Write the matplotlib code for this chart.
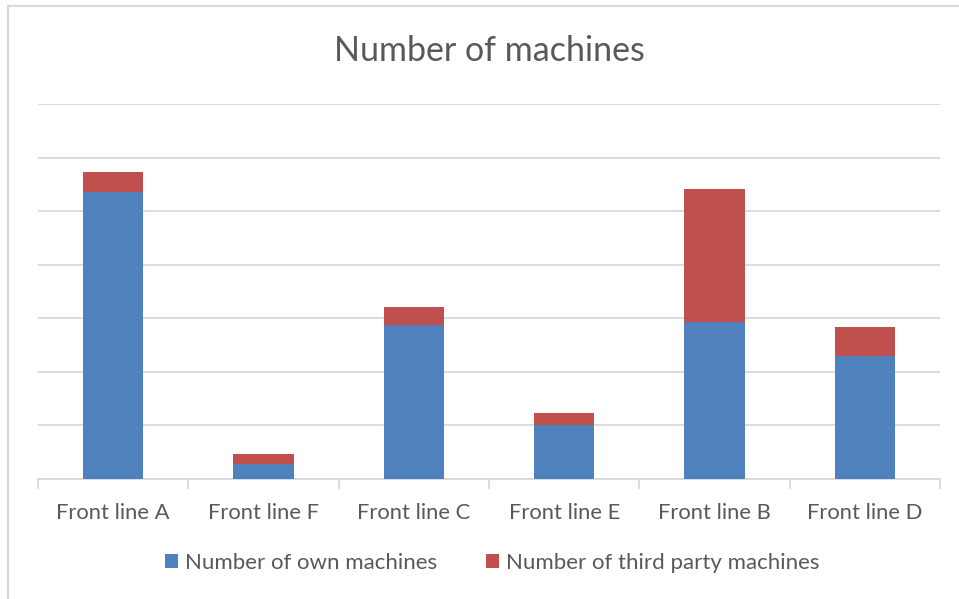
import matplotlib.pyplot as plt
import numpy as np
from matplotlib.lines import Line2D

plt.rcParams['font.family'] = ['Lato', 'DejaVu Sans']

lines = ['Front line A', 'Front line F', 'Front line C', 'Front line E', 'Front line B', 'Front line D']
own = [53.5, 2.8, 28.7, 10.0, 29.3, 23.0]
third_party = [3.8, 1.8, 3.4, 2.4, 24.8, 5.3]

W, H = 959, 599
fig = plt.figure(figsize=(W / 100, H / 100), dpi=100)
ax = fig.add_axes([38 / W, (H - 479) / H, (940 - 38) / W, (479 - 104) / H])

x = np.arange(len(lines))
ax.bar(x, own, width=0.4, color='#4F81BD', label='Number of own machines', zorder=3)
ax.bar(x, third_party, width=0.4, bottom=own, color='#C0504D',
       label='Number of third party machines', zorder=3)

ax.set_xlim(-0.5, len(lines) - 0.5)
ax.set_ylim(0, 70)
ax.set_yticks(np.arange(0, 71, 10))
ax.yaxis.grid(True, color='#d9d9d9', linewidth=1.3, zorder=0)
ax.tick_params(axis='y', left=False, labelleft=False)

ax.set_xticks(x)
ax.set_xticklabels(lines, fontsize=15.8, color='#595959')
ax.tick_params(axis='x', length=0, pad=17)
ax.set_xticks(np.arange(-0.5, len(lines)), minor=True)
ax.tick_params(axis='x', which='minor', length=7, width=1.3, color='#d9d9d9')

for s in ['top', 'right', 'left']:
    ax.spines[s].set_visible(False)
ax.spines['bottom'].set_color('#d9d9d9')
ax.spines['bottom'].set_linewidth(1.3)

fig.text(489 / W, 1 - 51 / H, 'Number of machines', ha='center', va='center',
         fontsize=24.5, color='#595959')

fig.legend(loc='center', bbox_to_anchor=(492 / W, 1 - 563 / H), ncol=2, frameon=False,
           fontsize=16, labelcolor='#595959', handlelength=0.6, handleheight=0.6,
           handletextpad=0.3, columnspacing=2.2)

# outer chart frame (top and left edges)
fig.add_artist(Line2D([8 / W, 8 / W], [0, 1 - 6 / H], color='#d9d9d9', linewidth=1.5))
fig.add_artist(Line2D([8 / W, 1], [1 - 6 / H, 1 - 6 / H], color='#d9d9d9', linewidth=1.5))

fig.savefig('out.png', dpi=100)
